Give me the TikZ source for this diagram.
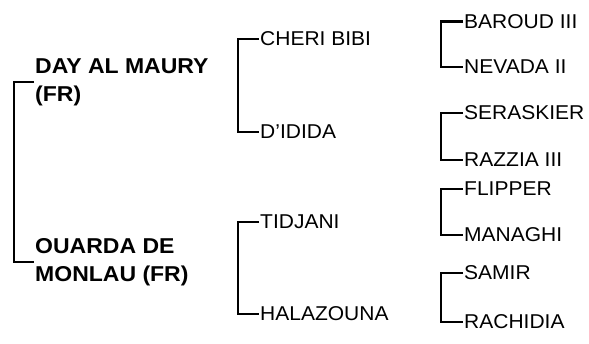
\documentclass[tikz,border=0pt]{standalone}
\usepackage{fontspec}
\setmainfont[FakeStretch=1.05]{Liberation Sans}
\newfontfamily\sirefont[FakeStretch=1.07]{Liberation Sans Bold}
\usepackage{tikz}
\tikzset{every node/.append style={font=\fontsize{20}{24}\selectfont, inner sep=1pt, anchor=west}}
\tikzset{
  sire/.style={font=\sirefont\fontsize{21.5}{28}\selectfont, align=left},
  bracket/.style={line width=2.3pt}
}

\begin{document}
\begin{tikzpicture}[x=1pt, y=-1pt]
    \useasboundingbox (0,0) rectangle (589,344);
    % first generation
    \node[sire] (sire) at (34,82) {DAY AL MAURY\\(FR)};
    \node[sire] (dam) at (34,262) {OUARDA DE\\MONLAU (FR)};
    \draw[bracket] (sire.west) -- ++(-20,0) |- (dam.west);
    % second generation
    \node (ss) at (259,39) {CHERI BIBI};
    \node (sd) at (259,132) {D'IDIDA};
    \node (ds) at (259,222) {TIDJANI};
    \node (dd) at (259,314) {HALAZOUNA};
    \draw[bracket] (ss.west) -- ++(-21,0) |- (sd.west);
    \draw[bracket] (ds.west) -- ++(-21,0) |- (dd.west);
    % third generation
    \node (sss) at (463,21.5) {BAROUD III};
    \node (ssd) at (463,67) {NEVADA II};
    \node (sds) at (463,113) {SERASKIER};
    \node (sdd) at (463,160) {RAZZIA III};
    \node (dss) at (463,189) {FLIPPER};
    \node (dsd) at (463,235) {MANAGHI};
    \node (dds) at (463,273) {SAMIR};
    \node (ddd) at (463,322) {RACHIDIA};
    \foreach \a/\b in {sss/ssd, sds/sdd, dss/dsd, dds/ddd}
        \draw[bracket] (\a.west) -- ++(-22,0) |- (\b.west);
\end{tikzpicture}
\end{document}
